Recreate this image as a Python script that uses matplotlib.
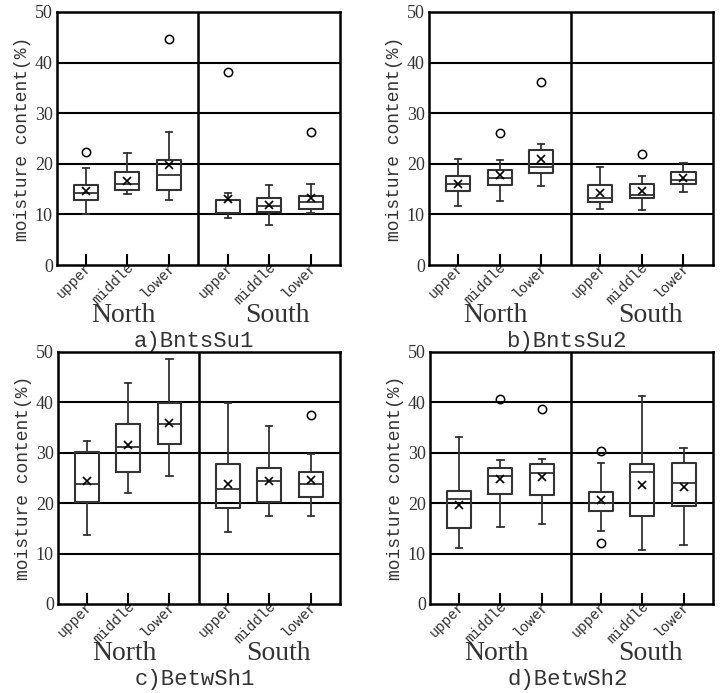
import matplotlib
matplotlib.use("Agg")
import matplotlib.pyplot as plt
from matplotlib.transforms import ScaledTranslation

# ---------------- data ----------------
categories = ["upper", "middle", "lower", "upper", "middle", "lower"]
regions = ["North", "South"]
panel_titles = ["a)BntsSu1", "b)BntsSu2", "c)BetwSh1", "d)BetwSh2"]
yticks = [0, 10, 20, 30, 40, 50]

# each panel: order N-upper, N-middle, N-lower, S-upper, S-middle, S-lower
a_whislo = [10.0, 14.0, 12.8, 9.2, 8.0, 10.2]
a_q1     = [12.8, 14.8, 14.8, 10.2, 10.5, 11.0]
a_med    = [14.3, 16.0, 17.8, 10.3, 11.7, 12.4]
a_q3     = [15.9, 18.3, 20.7, 12.9, 13.2, 13.6]
a_whishi = [19.1, 22.2, 26.2, 14.3, 15.8, 16.1]
a_mean   = [14.7, 16.6, 19.8, 13.0, 11.9, 13.3]
a_fliers = [[22.3], [], [44.7], [38.1], [], [26.2]]

b_whislo = [11.6, 12.6, 15.7, 11.1, 10.9, 14.4]
b_q1     = [14.7, 15.8, 18.2, 12.5, 13.2, 16.1]
b_med    = [16.1, 17.1, 19.3, 13.3, 13.8, 16.7]
b_q3     = [17.6, 18.8, 22.8, 15.9, 16.1, 18.4]
b_whishi = [21.0, 20.7, 24.0, 19.3, 17.5, 20.2]
b_mean   = [16.1, 17.7, 20.9, 14.2, 14.6, 17.1]
b_fliers = [[], [26.0], [36.2], [], [22.0], []]

c_whislo = [13.7, 22.0, 25.3, 14.2, 17.4, 17.4]
c_q1     = [20.2, 26.2, 31.8, 19.0, 20.2, 21.3]
c_med    = [23.8, 31.2, 35.8, 22.9, 24.4, 23.8]
c_q3     = [30.2, 35.8, 39.8, 27.7, 27.0, 26.1]
c_whishi = [32.4, 43.9, 48.7, 39.8, 35.3, 29.7]
c_mean   = [24.4, 31.5, 35.9, 23.9, 24.4, 24.6]
c_fliers = [[], [], [], [], [], [37.5]]

d_whislo = [11.2, 15.2, 15.8, 14.5, 10.8, 11.8]
d_q1     = [15.1, 21.9, 21.7, 18.4, 17.5, 19.4]
d_med    = [20.8, 25.4, 26.0, 20.1, 26.1, 24.0]
d_q3     = [22.5, 26.9, 27.7, 22.3, 27.7, 27.9]
d_whishi = [33.1, 28.5, 28.8, 27.9, 41.3, 31.0]
d_mean   = [19.7, 24.9, 25.1, 20.7, 23.6, 23.3]
d_fliers = [[], [40.6], [38.6], [30.4, 12.2], [], []]

panels = [
    (a_whislo, a_q1, a_med, a_q3, a_whishi, a_mean, a_fliers),
    (b_whislo, b_q1, b_med, b_q3, b_whishi, b_mean, b_fliers),
    (c_whislo, c_q1, c_med, c_q3, c_whishi, c_mean, c_fliers),
    (d_whislo, d_q1, d_med, d_q3, d_whishi, d_mean, d_fliers),
]

# ---------------- layout ----------------
W, H = 722, 693
fig = plt.figure(figsize=(W / 100, H / 100), dpi=100)

# axes rectangles in pixels: left, right, top, bottom
rects_px = [(57, 340, 12, 265), (429, 713, 12, 265),
            (58, 340, 352, 604), (430, 713, 352, 604)]

positions = [1, 2, 3, 4.42, 5.42, 6.42]
divider = 3.71
xlim = (0.3, 7.13)

serif = "Liberation Serif"
mono = "Liberation Mono"
box_col = "#333333"
text_col = "#333333"

for (l, r, t, b), data, title in zip(rects_px, panels, panel_titles):
    ax = fig.add_axes([l / W, (H - b) / H, (r - l) / W, (b - t) / H])
    whislo, q1, med, q3, whishi, mean, fliers = data
    stats = []
    for i in range(len(categories)):
        stats.append(dict(whislo=whislo[i], q1=q1[i], med=med[i], q3=q3[i],
                          whishi=whishi[i], mean=mean[i], fliers=fliers[i]))
    for yv in yticks[1:-1]:
        ax.axhline(yv, color="black", lw=1.5, zorder=1)
    ax.axvline(divider, color="black", lw=1.8, zorder=1)
    ax.bxp(stats, positions=positions, widths=0.58, showmeans=True,
           showfliers=True, patch_artist=False,
           boxprops=dict(color=box_col, lw=1.5),
           whiskerprops=dict(color=box_col, lw=1.3),
           capprops=dict(color=box_col, lw=1.3),
           medianprops=dict(color=box_col, lw=1.3),
           meanprops=dict(marker="x", markeredgecolor="black",
                          markersize=6, markeredgewidth=1.2),
           flierprops=dict(marker="o", markerfacecolor="none",
                           markeredgecolor="black", markersize=6,
                           markeredgewidth=1.1),
           capwidths=0.15, zorder=3)
    ax.set_xlim(*xlim)
    ax.set_ylim(0, 50)
    ax.set_yticks(yticks)
    ax.set_yticklabels([str(v) for v in yticks], fontfamily=serif,
                       fontsize=13, color=text_col)
    ax.tick_params(axis="y", length=0, pad=3)
    ax.set_xticks(positions)
    ax.set_xticklabels(categories, rotation=45, ha="right", va="center",
                       rotation_mode="anchor", fontfamily=mono,
                       fontsize=10.5, color=text_col)
    ax.tick_params(axis="x", direction="in", length=8, width=1.5,
                   color="black", pad=0)
    off = ScaledTranslation(4 / 100, 0, fig.dpi_scale_trans)
    for lab in ax.get_xticklabels():
        lab.set_transform(lab.get_transform() + off)
    for s in ax.spines.values():
        s.set_color("black")
        s.set_linewidth(1.8)
    ax.set_ylabel("moisture content(%)", fontfamily=mono, fontsize=13,
                  color=text_col, labelpad=3)
    hpx = b - t
    ax.text(0.235, -50 / hpx, regions[0], transform=ax.transAxes,
            ha="center", va="center", fontfamily=serif, fontsize=20,
            color=text_col)
    ax.text(0.78, -50 / hpx, regions[1], transform=ax.transAxes,
            ha="center", va="center", fontfamily=serif, fontsize=20,
            color=text_col)
    ax.text(0.485, -76 / hpx, title, transform=ax.transAxes,
            ha="center", va="center", fontfamily=mono, fontsize=16,
            color=text_col)

fig.savefig("out.png", dpi=100)
